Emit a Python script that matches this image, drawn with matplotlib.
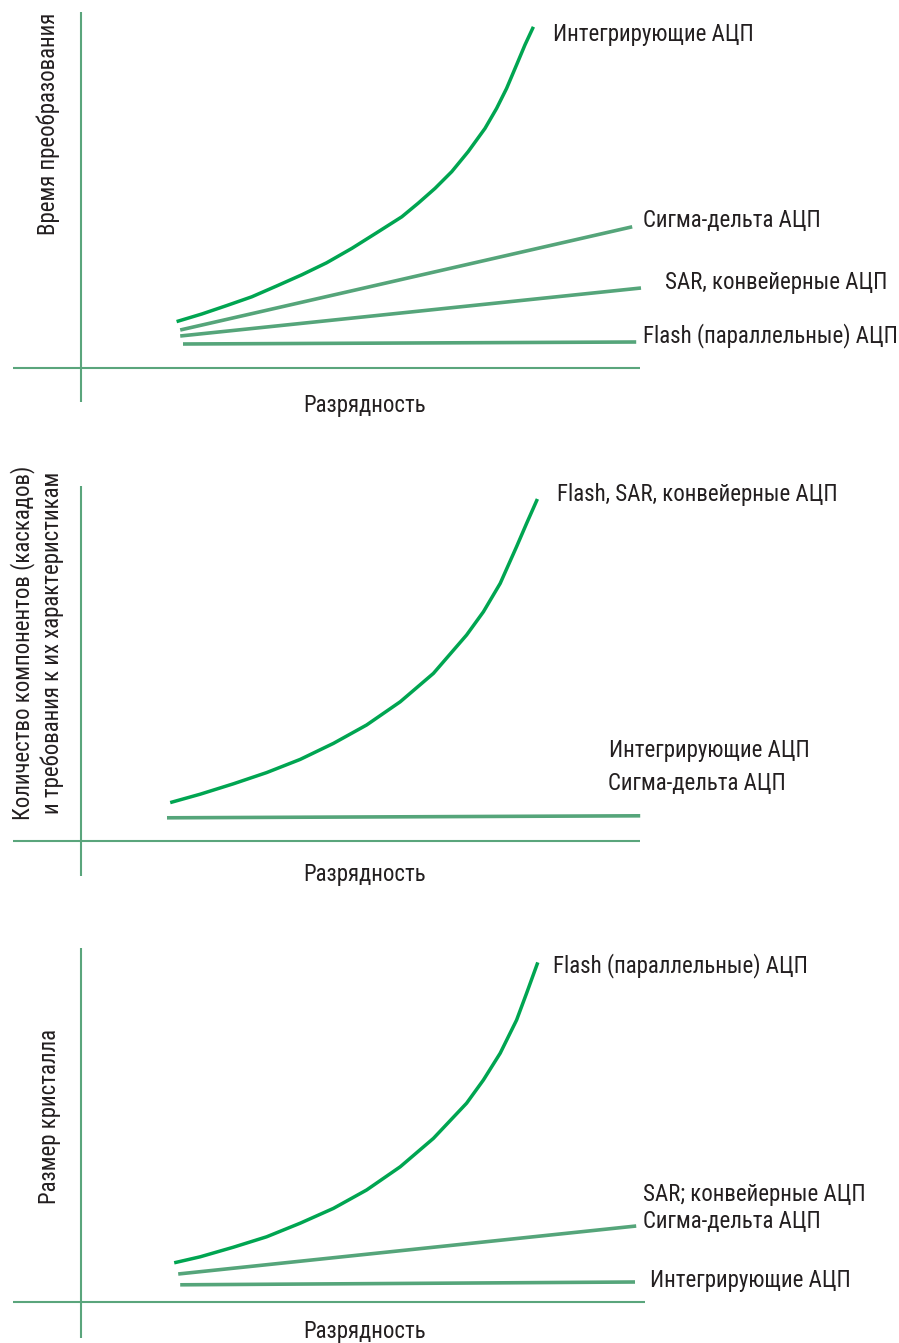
import matplotlib
matplotlib.use("Agg")
import matplotlib.pyplot as plt
from matplotlib import font_manager

# pick a narrow font if one is installed
names = {f.name for f in font_manager.fontManager.ttflist}
font = "Roboto"
for cand in ["Roboto Condensed", "Liberation Sans Narrow", "Open Sans Condensed"]:
    if cand in names:
        font = cand
        break
plt.rcParams["font.family"] = [font, "DejaVu Sans"]

W, H = 899, 1343
BRIGHT = "#00a551"
MUTED = "#55a57a"
AXIS = "#5aa57c"
TEXT = "#231f20"
FS = 16.5

# ---- panel 1: время преобразования ----
p1_curve_x = [2.39, 3.02, 3.64, 4.27, 4.89, 5.52, 6.14, 6.77, 7.39, 8.02,
              8.43, 8.85, 9.27, 9.68, 10.1, 10.39, 10.64, 10.89, 11.1, 11.31]
p1_curve_y = [1.16, 1.35, 1.56, 1.78, 2.05, 2.33, 2.63, 2.99, 3.38, 3.78,
              4.12, 4.49, 4.91, 5.41, 5.99, 6.49, 6.99, 7.58, 8.08, 8.53]
p1_sigma_x = [2.48, 13.78]
p1_sigma_y = [0.95, 3.53]
p1_sar_x = [2.48, 14.0]
p1_sar_y = [0.8, 2.0]
p1_flash_x = [2.55, 13.88]
p1_flash_y = [0.6, 0.65]

# ---- panel 2: количество компонентов ----
p2_curve_x = [2.23, 2.98, 3.81, 4.64, 5.48, 6.31, 7.14, 7.98, 8.81, 9.64,
              10.06, 10.48, 10.89, 11.14, 11.41]
p2_curve_y = [0.96, 1.17, 1.43, 1.71, 2.04, 2.44, 2.9, 3.48, 4.19, 5.15,
              5.73, 6.44, 7.36, 7.94, 8.55]
p2_flat_x = [2.15, 13.98]
p2_flat_y = [0.58, 0.63]

# ---- panel 3: размер кристалла ----
p3_curve_x = [2.33, 2.98, 3.81, 4.64, 5.48, 6.31, 7.14, 7.98, 8.81, 9.64,
              10.06, 10.48, 10.89, 11.14, 11.42]
p3_curve_y = [0.98, 1.13, 1.37, 1.63, 1.97, 2.34, 2.8, 3.38, 4.09, 4.97,
              5.55, 6.22, 7.05, 7.72, 8.49]
p3_sigma_x = [2.43, 13.88]
p3_sigma_y = [0.7, 1.9]
p3_flat_x = [2.48, 13.85]
p3_flat_y = [0.43, 0.5]

x_label = "Разрядность"


def make_axes(fig, top_px, bottom_px, ox, oy, scale=40.0):
    ax = fig.add_axes([0, 1 - bottom_px / H, 1, (bottom_px - top_px) / H])
    ax.set_xlim((0 - ox) / scale, (W - ox) / scale)
    ax.set_ylim((oy - bottom_px) / scale, (oy - top_px) / scale)
    ax.axis("off")
    return ax


def draw_axes_lines(ax, x0, x1, y0, y1):
    ax.plot([x0, x1], [0, 0], color=AXIS, lw=1.5, solid_capstyle="butt")
    ax.plot([0, 0], [y0, y1], color=AXIS, lw=1.5, solid_capstyle="butt")


def curve(ax, x, y, bright=False):
    ax.plot(x, y, color=BRIGHT if bright else MUTED, lw=2.5 if bright else 2.6,
            solid_joinstyle="round", solid_capstyle="butt")


def label(ax, x, y, s):
    ax.text(x, y, s, fontsize=FS, color=TEXT, va="center", ha="left", clip_on=False)


def xlab(ax, y):
    ax.text(7.08, y, x_label, fontsize=FS, color=TEXT, ha="center", va="center")


fig = plt.figure(figsize=(W / 100, H / 100), dpi=100)

# panel 1
ax1 = make_axes(fig, 0, 440, 81, 368)
draw_axes_lines(ax1, -1.7, 13.98, -0.85, 8.9)
curve(ax1, p1_curve_x, p1_curve_y, bright=True)
curve(ax1, p1_sigma_x, p1_sigma_y)
curve(ax1, p1_sar_x, p1_sar_y)
curve(ax1, p1_flash_x, p1_flash_y)
label(ax1, 11.8, 8.35, "Интегрирующие АЦП")
label(ax1, 14.05, 3.68, "Сигма-дельта АЦП")
label(ax1, 14.6, 2.13, "SAR, конвейерные АЦП")
label(ax1, 14.05, 0.8, "Flash (параллельные) АЦП")
xlab(ax1, -0.93)
ax1.text(-0.83, 6.1, "Время преобразования", fontsize=FS, color=TEXT,
         ha="center", va="center", rotation=90)

# panel 2
ax2 = make_axes(fig, 460, 910, 81, 841)
draw_axes_lines(ax2, -1.7, 13.98, -0.88, 8.88)
curve(ax2, p2_curve_x, p2_curve_y, bright=True)
curve(ax2, p2_flat_x, p2_flat_y)
label(ax2, 11.9, 8.65, "Flash, SAR, конвейерные АЦП")
label(ax2, 13.2, 2.25, "Интегрирующие АЦП")
label(ax2, 13.18, 1.43, "Сигма-дельта АЦП")
xlab(ax2, -0.85)
ax2.text(-1.1, 4.95, "Количество компонентов (каскадов)\nи требования к их характеристикам",
         fontsize=FS, color=TEXT, ha="center", va="center", rotation=90,
         linespacing=1.3)

# panel 3
ax3 = make_axes(fig, 930, 1343, 81, 1302)
draw_axes_lines(ax3, -1.7, 14.1, -0.9, 8.85)
curve(ax3, p3_curve_x, p3_curve_y, bright=True)
curve(ax3, p3_sigma_x, p3_sigma_y)
curve(ax3, p3_flat_x, p3_flat_y)
label(ax3, 11.8, 8.4, "Flash (параллельные) АЦП")
label(ax3, 14.05, 2.68, "SAR; конвейерные АЦП")
label(ax3, 14.05, 2.0, "Сигма-дельта АЦП")
label(ax3, 14.23, 0.55, "Интегрирующие АЦП")
xlab(ax3, -0.73)
ax3.text(-0.78, 4.63, "Размер кристалла", fontsize=FS, color=TEXT,
         ha="center", va="center", rotation=90)

fig.savefig("out.png", dpi=100, facecolor="white")
